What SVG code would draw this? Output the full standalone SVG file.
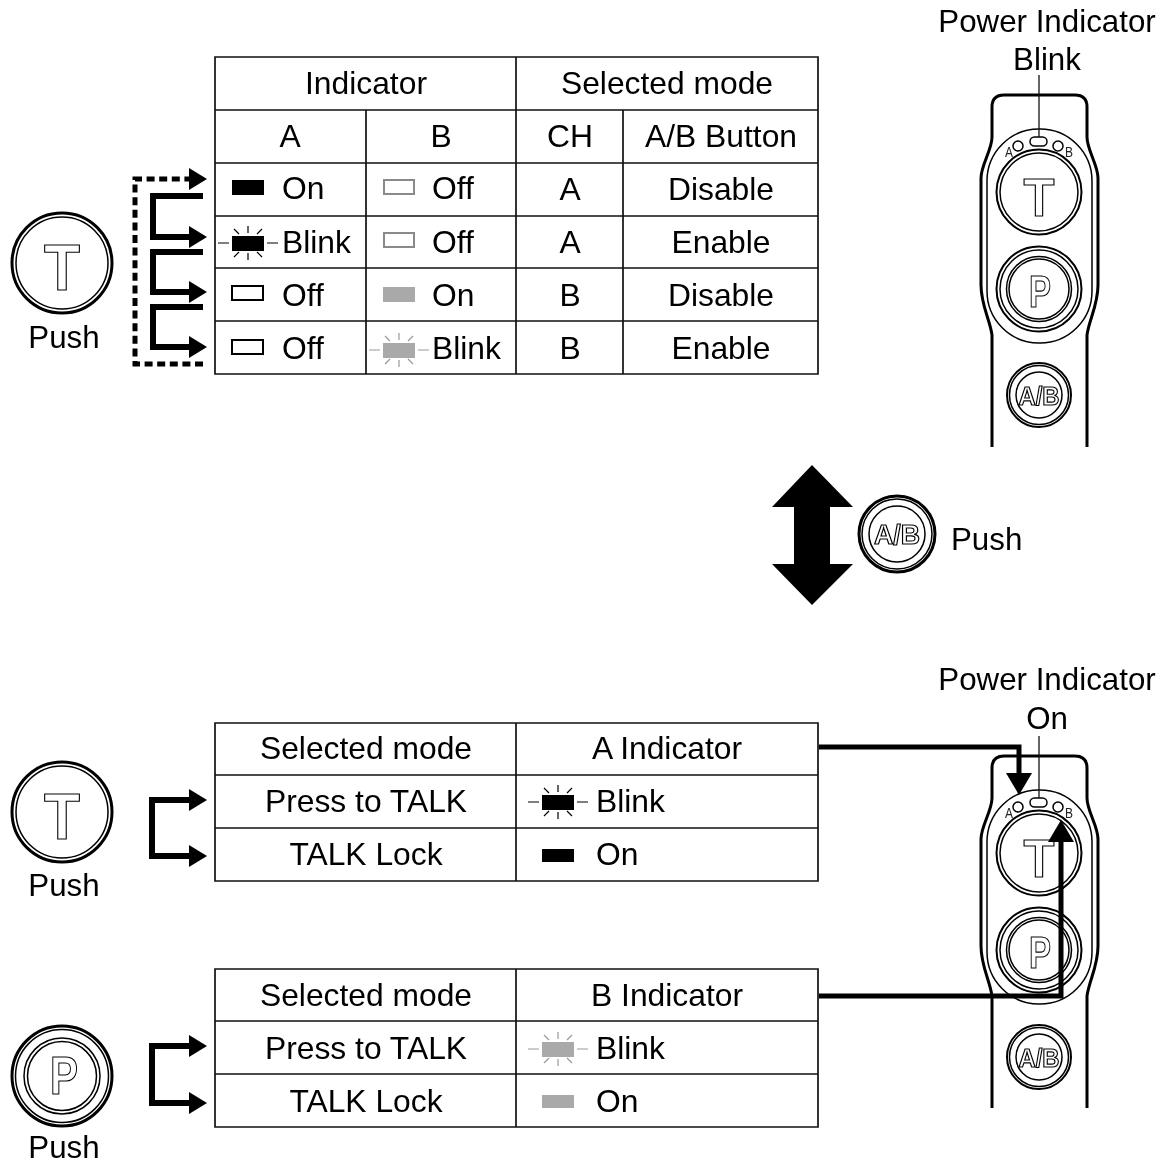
<svg xmlns="http://www.w3.org/2000/svg" width="1165" height="1164" viewBox="0 0 1165 1164">
<style>
text{font-family:"Liberation Sans",Arial,sans-serif;font-size:31.3px;fill:#000;text-anchor:middle;filter:grayscale(1)}
#table-top text,#table-a text,#table-b text{font-size:31.8px}
.s{text-anchor:start}
.g{fill:none;stroke:#111;stroke-width:1.7}
.thin{fill:none;stroke:#111;stroke-width:1.3}
.rim{fill:#fff;stroke:#000;stroke-width:3}
.rim2{fill:#fff;stroke:#000;stroke-width:2}
.body{fill:none;stroke:#000;stroke-width:3}
.ring{fill:none;stroke:#000;stroke-width:1.5}
.glyph{fill:#fff;stroke:#000;stroke-width:1.2;font-weight:700}
.tiny{font-size:15px;fill:#222}
.c{fill:none;stroke:#000;stroke-width:6}
.c2{fill:none;stroke:#000;stroke-width:5}
.d{fill:none;stroke:#000;stroke-width:5;stroke-dasharray:8 4.6}
.onA{fill:#000}.onB{fill:#a9a9a9}
.offA{fill:#fff;stroke:#000;stroke-width:2}
.offB{fill:#fff;stroke:#8a8a8a;stroke-width:2}
.rayA{stroke:#000;stroke-width:1.2;fill:none}
.rayB{stroke:#999;stroke-width:1.2;fill:none}
</style>
<defs>
<marker id="ah" markerUnits="userSpaceOnUse" markerWidth="18" markerHeight="22" refX="0" refY="11" orient="auto"><path d="M0 0L18 11L0 22Z" fill="#000"/></marker>
<marker id="ah2" markerUnits="userSpaceOnUse" markerWidth="24" markerHeight="28" refX="0" refY="14" orient="auto"><path d="M0 1L22 14L0 27Z" fill="#000"/></marker>
<g id="rays"><path d="M-30 0H-19M19 0H30M0 -17V-10M0 10V17M-14 -14L-9 -9M14 -14L9 -9M-14 14L-9 9M14 14L9 9"/></g>
</defs>

<g id="table-top">
<path class="g" d="M215 57H818V374H215ZM215 110H818M215 163H818M215 216H818M215 268H818M215 321H818M366 110V374M516 57V374M623 110V374"/>
<text x="366" y="94">Indicator</text><text x="667" y="94">Selected mode</text>
<text x="290" y="147">A</text><text x="441" y="147">B</text><text x="570" y="147">CH</text><text x="721" y="147">A/B Button</text>
<rect class="onA" x="232" y="180" width="32" height="15"/><text class="s" x="282" y="199">On</text>
<rect class="offB" x="384" y="180" width="30" height="14"/><text class="s" x="432" y="199">Off</text><text x="570" y="200">A</text><text x="721" y="200">Disable</text>
<use href="#rays" class="rayA" x="248" y="243"/><rect class="onA" x="232" y="236" width="32" height="15"/><text class="s" x="282" y="253">Blink</text>
<rect class="offB" x="384" y="233" width="30" height="14"/><text class="s" x="432" y="253">Off</text><text x="570" y="253">A</text><text x="721" y="253">Enable</text>
<rect class="offA" x="232" y="286" width="31" height="14"/><text class="s" x="282" y="306">Off</text>
<rect class="onB" x="383" y="287" width="32" height="15"/><text class="s" x="432" y="306">On</text><text x="570" y="306">B</text><text x="721" y="306">Disable</text>
<rect class="offA" x="232" y="340" width="31" height="14"/><text class="s" x="282" y="359">Off</text>
<use href="#rays" class="rayB" x="399" y="350"/><rect class="onB" x="383" y="343" width="32" height="15"/><text class="s" x="432" y="359">Blink</text><text x="570" y="359">B</text><text x="721" y="359">Enable</text>
</g>

<g id="table-a">
<path class="g" d="M215 723H818V881H215ZM215 775H818M215 828H818M516 723V881"/>
<text x="366" y="759">Selected mode</text><text x="667" y="759">A Indicator</text>
<text x="366" y="812">Press to TALK</text><use href="#rays" class="rayA" x="558" y="802"/><rect class="onA" x="542" y="795" width="32" height="15"/><text class="s" x="596" y="812">Blink</text>
<text x="366" y="865">TALK Lock</text><rect class="onA" x="542" y="849" width="32" height="13"/><text class="s" x="596" y="865">On</text>
</g>

<g id="table-b">
<path class="g" d="M215 969H818V1127H215ZM215 1021H818M215 1074H818M516 969V1127"/>
<text x="366" y="1006">Selected mode</text><text x="667" y="1006">B Indicator</text>
<text x="366" y="1059">Press to TALK</text><use href="#rays" class="rayB" x="558" y="1049"/><rect class="onB" x="542" y="1042" width="32" height="15"/><text class="s" x="596" y="1059">Blink</text>
<text x="366" y="1112">TALK Lock</text><rect class="onB" x="542" y="1095" width="32" height="13"/><text class="s" x="596" y="1112">On</text>
</g>

<g id="push-t">
<circle class="rim" cx="62" cy="263" r="50"/><circle class="ring" cx="62" cy="263" r="46"/>
<text class="glyph" x="62" y="290" textLength="36" lengthAdjust="spacingAndGlyphs" style="font-size:64px">T</text>
<text x="64" y="348">Push</text>
</g>
<g id="push-t2">
<circle class="rim" cx="62" cy="812" r="50"/><circle class="ring" cx="62" cy="812" r="46"/>
<text class="glyph" x="62" y="839" textLength="36" lengthAdjust="spacingAndGlyphs" style="font-size:64px">T</text>
<text x="64" y="896">Push</text>
</g>
<g id="push-p">
<circle class="rim" cx="62" cy="1076" r="50"/><circle class="ring" cx="62" cy="1076" r="46.5"/><circle class="ring" cx="62" cy="1076" r="38"/><circle class="ring" cx="62" cy="1076" r="34.5"/>
<text class="glyph" x="64" y="1094" textLength="28" lengthAdjust="spacingAndGlyphs" style="font-size:53px">P</text>
<text x="64" y="1158">Push</text>
</g>
<g id="push-ab">
<circle class="rim" cx="897" cy="534" r="38"/><circle class="ring" cx="897" cy="534" r="35"/><circle class="ring" cx="897" cy="534" r="28"/>
<text class="glyph" x="897" y="544" textLength="46" lengthAdjust="spacingAndGlyphs" style="font-size:27px">A/B</text>
<text class="s" x="951" y="550">Push</text>
</g>
<g id="toggle-arrow"><path d="M812 465L853 507H830V564H853L812 605L772 564H794V507H772Z" fill="#000"/></g>

<g id="device-top">
<path class="body" d="M992 447V335C990 320 981 305 981 285V178C981 165 992 150 992 137V107Q992 95 1004 95H1075Q1087 95 1087 107V137C1087 150 1098 165 1098 178V285C1098 305 1089 320 1087 335V447"/>
<rect class="ring" x="987" y="129" width="105" height="214" rx="52" ry="52"/>
<rect class="ring" x="1030" y="137" width="17" height="9" rx="4.5"/>
<circle class="ring" cx="1018" cy="146" r="5"/><circle class="ring" cx="1058" cy="146" r="5"/>
<text class="tiny" x="1009" y="157" textLength="8" lengthAdjust="spacingAndGlyphs">A</text><text class="tiny" x="1069" y="157" textLength="8" lengthAdjust="spacingAndGlyphs">B</text>
<circle class="rim2" cx="1039" cy="192" r="42.5"/><circle class="ring" cx="1039" cy="192" r="39"/>
<text class="glyph" x="1039" y="216" textLength="31" lengthAdjust="spacingAndGlyphs" style="font-size:54px">T</text>
<circle class="rim2" cx="1039" cy="289" r="42.5"/><circle class="ring" cx="1039" cy="289" r="39"/><circle class="ring" cx="1039" cy="289" r="32.5"/><circle class="ring" cx="1039" cy="289" r="30"/>
<text class="glyph" x="1040" y="307" textLength="22" lengthAdjust="spacingAndGlyphs" style="font-size:45px">P</text>
<circle class="rim2" cx="1039" cy="395" r="32"/><circle class="ring" cx="1039" cy="395" r="29.5"/><circle class="ring" cx="1039" cy="395" r="23"/>
<text class="glyph" x="1039" y="405" textLength="41" lengthAdjust="spacingAndGlyphs" style="font-size:25px">A/B</text>
<path class="thin" d="M1039 75V137"/>
<text x="1047" y="32">Power Indicator</text><text x="1047" y="70">Blink</text>
</g>

<g id="device-bottom">
<path class="body" d="M992 1108V996C990 981 981 966 981 946V839C981 826 992 811 992 798V768Q992 756 1004 756H1075Q1087 756 1087 768V798C1087 811 1098 826 1098 839V946C1098 966 1089 981 1087 996V1108"/>
<rect class="ring" x="987" y="790" width="105" height="214" rx="52" ry="52"/>
<rect class="ring" x="1030" y="798" width="17" height="9" rx="4.5"/>
<circle class="ring" cx="1018" cy="807" r="5"/><circle class="ring" cx="1058" cy="807" r="5"/>
<text class="tiny" x="1009" y="818" textLength="8" lengthAdjust="spacingAndGlyphs">A</text><text class="tiny" x="1069" y="818" textLength="8" lengthAdjust="spacingAndGlyphs">B</text>
<circle class="rim2" cx="1039" cy="853" r="42.5"/><circle class="ring" cx="1039" cy="853" r="39"/>
<text class="glyph" x="1039" y="877" textLength="31" lengthAdjust="spacingAndGlyphs" style="font-size:54px">T</text>
<circle class="rim2" cx="1039" cy="950" r="42.5"/><circle class="ring" cx="1039" cy="950" r="39"/><circle class="ring" cx="1039" cy="950" r="32.5"/><circle class="ring" cx="1039" cy="950" r="30"/>
<text class="glyph" x="1040" y="968" textLength="22" lengthAdjust="spacingAndGlyphs" style="font-size:45px">P</text>
<circle class="rim2" cx="1039" cy="1057" r="32"/><circle class="ring" cx="1039" cy="1057" r="29.5"/><circle class="ring" cx="1039" cy="1057" r="23"/>
<text class="glyph" x="1039" y="1067" textLength="41" lengthAdjust="spacingAndGlyphs" style="font-size:25px">A/B</text>
<path class="thin" d="M1039 736V798"/>
<text x="1047" y="690">Power Indicator</text><text x="1047" y="729">On</text>
</g>

<g id="connectors">
<path class="d" d="M203 364H135V179H189" marker-end="url(#ah)"/>
<path class="c" d="M203 196H153V237H189" marker-end="url(#ah)"/>
<path class="c" d="M203 252H153V292H189" marker-end="url(#ah)"/>
<path class="c" d="M203 307H153V347H189" marker-end="url(#ah)"/>
<path class="c" d="M189 800H152V856H189" marker-end="url(#ah)"/>
<path d="M189 789L207 800L189 811Z" fill="#000"/>
<path class="c" d="M189 1046H152V1103H189" marker-end="url(#ah)"/>
<path d="M189 1035L207 1046L189 1057Z" fill="#000"/>
<path class="c2" d="M819 747H1019V773" marker-end="url(#ah2)"/>
<path class="c2" d="M819 996H1061V842" marker-end="url(#ah2)"/>
</g>
</svg>
